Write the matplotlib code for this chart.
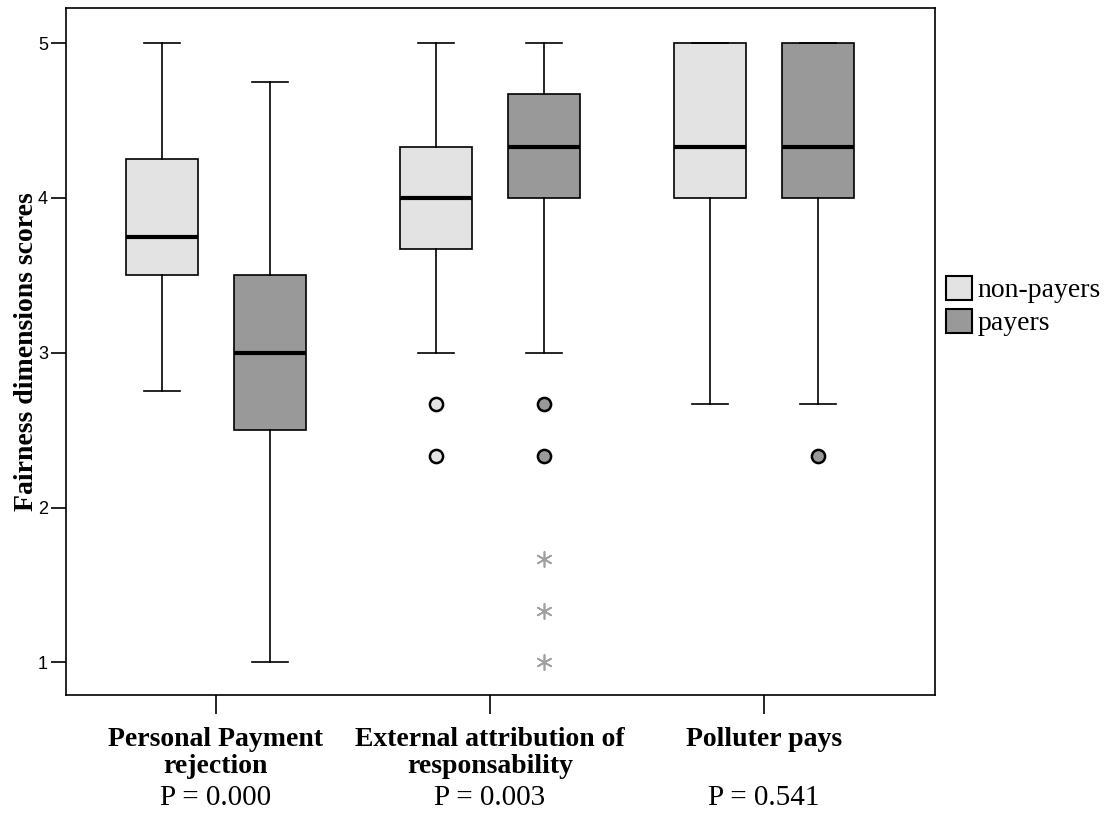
import numpy as np
import matplotlib.pyplot as plt
from matplotlib.patches import Patch

groups = ['Personal Payment\nrejection', 'External attribution of\nresponsability', 'Polluter pays']
p_values = ['P = 0.000', 'P = 0.003', 'P = 0.541']
series = ['non-payers', 'payers']
colors = ['#e3e3e3', '#999999']

# per group: (non-payers, payers) -> whislo, q1, med, q3, whishi
whislo = [[2.75, 1.0], [3.0, 3.0], [2.67, 2.67]]
q1 = [[3.5, 2.5], [3.67, 4.0], [4.0, 4.0]]
med = [[3.75, 3.0], [4.0, 4.33], [4.33, 4.33]]
q3 = [[4.25, 3.5], [4.33, 4.67], [5.0, 5.0]]
whishi = [[5.0, 4.75], [5.0, 5.0], [5.0, 5.0]]
outliers = [[[], []], [[2.67, 2.33], [2.67, 2.33]], [[], [2.33]]]
extremes = [[[], []], [[], [1.67, 1.33, 1.0]], [[], []]]

fig = plt.figure(figsize=(11.1, 8.18), dpi=100)
ax = fig.add_axes([0.0595, 0.150, 0.7826, 0.840])

offset = 0.197
width = 0.263
for s in range(2):
    stats = []
    pos = []
    for g in range(3):
        stats.append(dict(whislo=whislo[g][s], q1=q1[g][s], med=med[g][s],
                          q3=q3[g][s], whishi=whishi[g][s], fliers=[]))
        pos.append(g + 1 + (offset if s else -offset))
    bp = ax.bxp(stats, positions=pos, widths=width, patch_artist=True,
                showfliers=False,
                boxprops=dict(facecolor=colors[s], edgecolor='black', linewidth=1.2),
                medianprops=dict(color='black', linewidth=3),
                whiskerprops=dict(color='black', linewidth=1.2),
                capprops=dict(color='black', linewidth=1.2),
                capwidths=width / 2)
    for g in range(3):
        x = g + 1 + (offset if s else -offset)
        if outliers[g][s]:
            ax.scatter([x] * len(outliers[g][s]), outliers[g][s], s=90,
                       facecolor=colors[s], edgecolor='black', linewidth=1.8, zorder=3)
        if extremes[g][s]:
            ax.scatter([x] * len(extremes[g][s]), extremes[g][s], s=120,
                       marker=(6, 2, 0), color='#a0a0a0', linewidth=1.2, zorder=3)

ax.set_xlim(0.453, 3.624)
ax.set_ylim(0.787, 5.226)
ax.set_yticks([1, 2, 3, 4, 5])
ax.set_yticklabels(['1', '2', '3', '4', '5'], family='Liberation Sans', fontsize=13)
ax.set_xticks([1, 2, 3])
ax.set_xticklabels(groups, family='Liberation Serif', fontweight='bold', fontsize=20,
                   linespacing=1.1)
ax.tick_params(axis='y', length=11, width=1.2, pad=2)
ax.tick_params(axis='x', length=14, width=1.2, pad=9)
for sp in ax.spines.values():
    sp.set_linewidth(1.2)
ax.set_ylabel('Fairness dimensions scores', family='Liberation Serif', fontweight='bold',
              fontsize=20)
ax.yaxis.set_label_coords(-0.031, 0.5)

for g in range(3):
    ax.text(g + 1, -0.150, p_values[g], transform=ax.get_xaxis_transform(),
            ha='center', va='center', family='Liberation Serif', fontsize=21)

handles = [Patch(facecolor=colors[i], edgecolor='black', linewidth=1.5, label=series[i]) for i in range(2)]
fig.legend(handles=handles, loc='center left', bbox_to_anchor=(0.852, 0.626), frameon=False,
           prop=dict(family='Liberation Serif', size=20), handlelength=0.95, handleheight=0.95,
           handletextpad=0.2, labelspacing=0.2, borderaxespad=0, borderpad=0)

fig.savefig('out.png', dpi=100)
